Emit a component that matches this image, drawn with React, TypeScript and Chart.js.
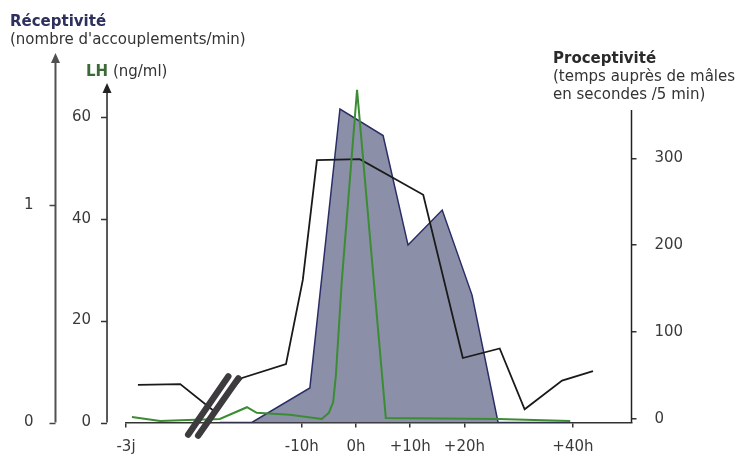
import React, { useEffect, useRef } from 'react';
import { Chart, registerables } from 'chart.js';

Chart.register(...registerables);

// ---- Data ----
// x positions are hours relative to the LH peak; "-3j" is placed at -42.4 on the compressed axis
const xTickValues = [-42.4, -10, 0, 10, 20, 40];
const xTickLabels = ['-3j', '-10h', '0h', '+10h', '+20h', '+40h'];

const lhTicks = [0, 20, 40, 60];
const recTicks = [0, 1];
const proTicks = [0, 100, 200, 300];

// Proceptivité (s / 5 min) – black line, right axis
const proX = [-40.2, -32.4, -26.2, -21.0, -12.9, -9.8, -7.2, 0.7, 12.4, 19.7, 26.5, 31.1, 38.0, 43.7];
const proY = [39, 40, 9, 47, 63, 160, 298, 299, 258, 70, 81, 11, 44, 55];

// Réceptivité (accouplements / min) – filled area
const recX = [-25.1, -19.2, -8.5, -2.95, 5.0, 9.6, 15.9, 21.4, 26.2, 39.5];
const recY = [0, 0, 0.159, 1.442, 1.32, 0.816, 0.977, 0.586, 0, 0];

// LH (ng/ml) – green line
const lhX = [-41.3, -36.1, -31.0, -25.1, -20.1, -18.3, -12.2, -6.3, -5.0, -4.2, -3.7, -2.6, 0.2, 5.5, 26.2, 39.5];
const lhY = [1.1, 0.3, 0.5, 0.7, 3.0, 1.9, 1.5, 0.7, 1.9, 4.0, 9.3, 28, 65.3, 0.9, 0.7, 0.3];

// axis ranges
const X_MIN = -42.4;
const X_MAX = 50.8;
const LH_MAX = 71.15;
const REC_MAX = 1.6674;
const PRO_MIN = -4.3;
const PRO_MAX = 413.3;
const LH_AXIS_AT = -45.9;
const REC_AXIS_AT = -55.4;
const LH_LABELS_AT = -48.86;
const REC_LABELS_AT = -59.46;
const BREAK_AT = -26.5;

const FAMILY = "'DejaVu Sans', Verdana, sans-serif";
const TICK_COLOR = '#3a3a3a';

function axisLine(ctx: CanvasRenderingContext2D, x: number, bottom: number, top: number, color: string, width: number, arrow: boolean) {
  ctx.strokeStyle = color;
  ctx.lineWidth = width;
  ctx.beginPath();
  ctx.moveTo(x, bottom);
  ctx.lineTo(x, top + (arrow ? 6 : 0));
  ctx.stroke();
  if (arrow) {
    ctx.fillStyle = color;
    ctx.beginPath();
    ctx.moveTo(x, top);
    ctx.lineTo(x - 4.5, top + 10);
    ctx.lineTo(x + 4.5, top + 10);
    ctx.closePath();
    ctx.fill();
  }
}

function tickMarks(ctx: CanvasRenderingContext2D, scale: any, x: number, len: number, color: string) {
  ctx.strokeStyle = color;
  ctx.lineWidth = 1.5;
  for (const t of scale.ticks) {
    const y = Math.round(scale.getPixelForValue(t.value)) + 0.5;
    ctx.beginPath();
    ctx.moveTo(x, y);
    ctx.lineTo(x - len, y);
    ctx.stroke();
  }
}

const decorPlugin = {
  id: 'decor',
  afterDraw(chart: any) {
    const { ctx, chartArea, scales } = chart;
    const bottom = chartArea.bottom;
    const top = chartArea.top;
    const xRec = scales.x.getPixelForValue(REC_AXIS_AT);
    const xLh = scales.x.getPixelForValue(LH_AXIS_AT);
    const xPro = chartArea.right;
    ctx.save();
    axisLine(ctx, xRec, bottom, top - 7, '#505050', 2, true);
    axisLine(ctx, xLh, bottom, top + 23, '#222', 1.5, true);
    axisLine(ctx, xPro, bottom, top + 50, '#222', 1.5, false);
    tickMarks(ctx, scales.rec, xRec, 6, '#444');
    tickMarks(ctx, scales.lh, xLh, 6, '#333');

    // axis break marks
    const cx = scales.x.getPixelForValue(BREAK_AT);
    ctx.strokeStyle = '#3d3b3e';
    ctx.lineWidth = 6.5;
    ctx.lineCap = 'round';
    ctx.beginPath();
    ctx.moveTo(cx - 24, bottom + 12);
    ctx.lineTo(cx + 16, bottom - 46);
    ctx.stroke();
    ctx.beginPath();
    ctx.moveTo(cx - 14, bottom + 13);
    ctx.lineTo(cx + 26, bottom - 44);
    ctx.stroke();

    // titles
    ctx.textAlign = 'left';
    ctx.textBaseline = 'alphabetic';
    ctx.font = `bold 15px ${FAMILY}`;
    ctx.fillStyle = '#2d2f5c';
    ctx.fillText('Réceptivité', 10, 26);
    ctx.font = `15px ${FAMILY}`;
    ctx.fillStyle = '#333';
    ctx.fillText("(nombre d'accouplements/min)", 10, 44);

    ctx.font = `bold 15px ${FAMILY}`;
    ctx.fillStyle = '#3b6b34';
    ctx.fillText('LH', 86, 76);
    const w = ctx.measureText('LH').width;
    ctx.font = `15px ${FAMILY}`;
    ctx.fillStyle = '#333';
    ctx.fillText(' (ng/ml)', 86 + w, 76);

    ctx.font = `bold 15px ${FAMILY}`;
    ctx.fillStyle = '#2a2a2a';
    ctx.fillText('Proceptivité', 553, 63);
    ctx.font = `15px ${FAMILY}`;
    ctx.fillStyle = '#333';
    ctx.fillText('(temps auprès de mâles', 553, 81);
    ctx.fillText('en secondes /5 min)', 553, 99);
    ctx.restore();
  },
};

const tickFont = { family: FAMILY, size: 15 };

export default function App() {
  const canvasRef = useRef<HTMLCanvasElement | null>(null);

  useEffect(() => {
    const canvas = canvasRef.current;
    if (!canvas) return;
    const chart = new Chart(canvas, {
      type: 'line',
      data: {
        datasets: [
          {
            label: 'LH',
            data: lhX.map((x, i) => ({ x, y: lhY[i] })),
            yAxisID: 'lh',
            borderColor: '#3b8c32',
            borderWidth: 2,
            pointRadius: 0,
            fill: false,
            tension: 0,
            order: 0,
          },
          {
            label: 'Proceptivité',
            data: proX.map((x, i) => ({ x, y: proY[i] })),
            yAxisID: 'pro',
            borderColor: '#1a1a1a',
            borderWidth: 1.8,
            pointRadius: 0,
            fill: false,
            tension: 0,
            order: 1,
          },
          {
            label: 'Réceptivité',
            data: recX.map((x, i) => ({ x, y: recY[i] })),
            yAxisID: 'rec',
            borderColor: '#2b2e66',
            backgroundColor: '#8b90a8',
            borderWidth: 1.5,
            pointRadius: 0,
            fill: 'origin',
            tension: 0,
            order: 2,
          },
        ],
      },
      options: {
        animation: false,
        responsive: false,
        devicePixelRatio: 1,
        layout: { padding: { left: 126, top: 60, right: 0, bottom: 0 } },
        plugins: { legend: { display: false }, tooltip: { enabled: false } },
        scales: {
          x: {
            type: 'linear',
            position: 'bottom',
            min: X_MIN,
            max: X_MAX,
            afterFit: (s: any) => { s.height = 34.5; },
            afterBuildTicks: (s: any) => { s.ticks = xTickValues.map((v) => ({ value: v })); },
            grid: { display: true, drawOnChartArea: false, drawTicks: true, tickLength: 5, color: '#333', lineWidth: 1.5 },
            border: { display: true, color: '#333', width: 1.5 },
            ticks: {
              color: TICK_COLOR,
              font: tickFont,
              padding: 11,
              maxRotation: 0,
              autoSkip: false,
              callback: (v: any) => {
                const i = xTickValues.indexOf(Number(v));
                return i >= 0 ? xTickLabels[i] : '';
              },
            },
          },
          lh: {
            type: 'linear',
            axis: 'y',
            position: { x: LH_LABELS_AT },
            min: 0,
            max: LH_MAX,
            afterBuildTicks: (s: any) => { s.ticks = lhTicks.map((v) => ({ value: v })); },
            grid: { display: false },
            border: { display: false },
            ticks: { color: TICK_COLOR, font: tickFont, padding: 0 },
          },
          rec: {
            type: 'linear',
            axis: 'y',
            position: { x: REC_LABELS_AT },
            min: 0,
            max: REC_MAX,
            afterBuildTicks: (s: any) => { s.ticks = recTicks.map((v) => ({ value: v })); },
            grid: { display: false },
            border: { display: false },
            ticks: { color: TICK_COLOR, font: tickFont, padding: 0 },
          },
          pro: {
            type: 'linear',
            axis: 'y',
            position: 'right',
            min: PRO_MIN,
            max: PRO_MAX,
            afterFit: (s: any) => { s.width = 104.5; },
            afterBuildTicks: (s: any) => { s.ticks = proTicks.map((v) => ({ value: v })); },
            grid: { display: true, drawOnChartArea: false, drawTicks: true, tickLength: 5, color: '#333', lineWidth: 1.5 },
            border: { display: false },
            ticks: { color: TICK_COLOR, font: tickFont, padding: 18 },
          },
        },
      } as any,
      plugins: [decorPlugin],
    });
    return () => chart.destroy();
  }, []);

  return (
    <div style={{ position: 'fixed', left: 0, top: 0, width: 736, height: 457, background: '#fff' }}>
      <canvas ref={canvasRef} width={736} height={457} style={{ display: 'block' }} />
    </div>
  );
}
